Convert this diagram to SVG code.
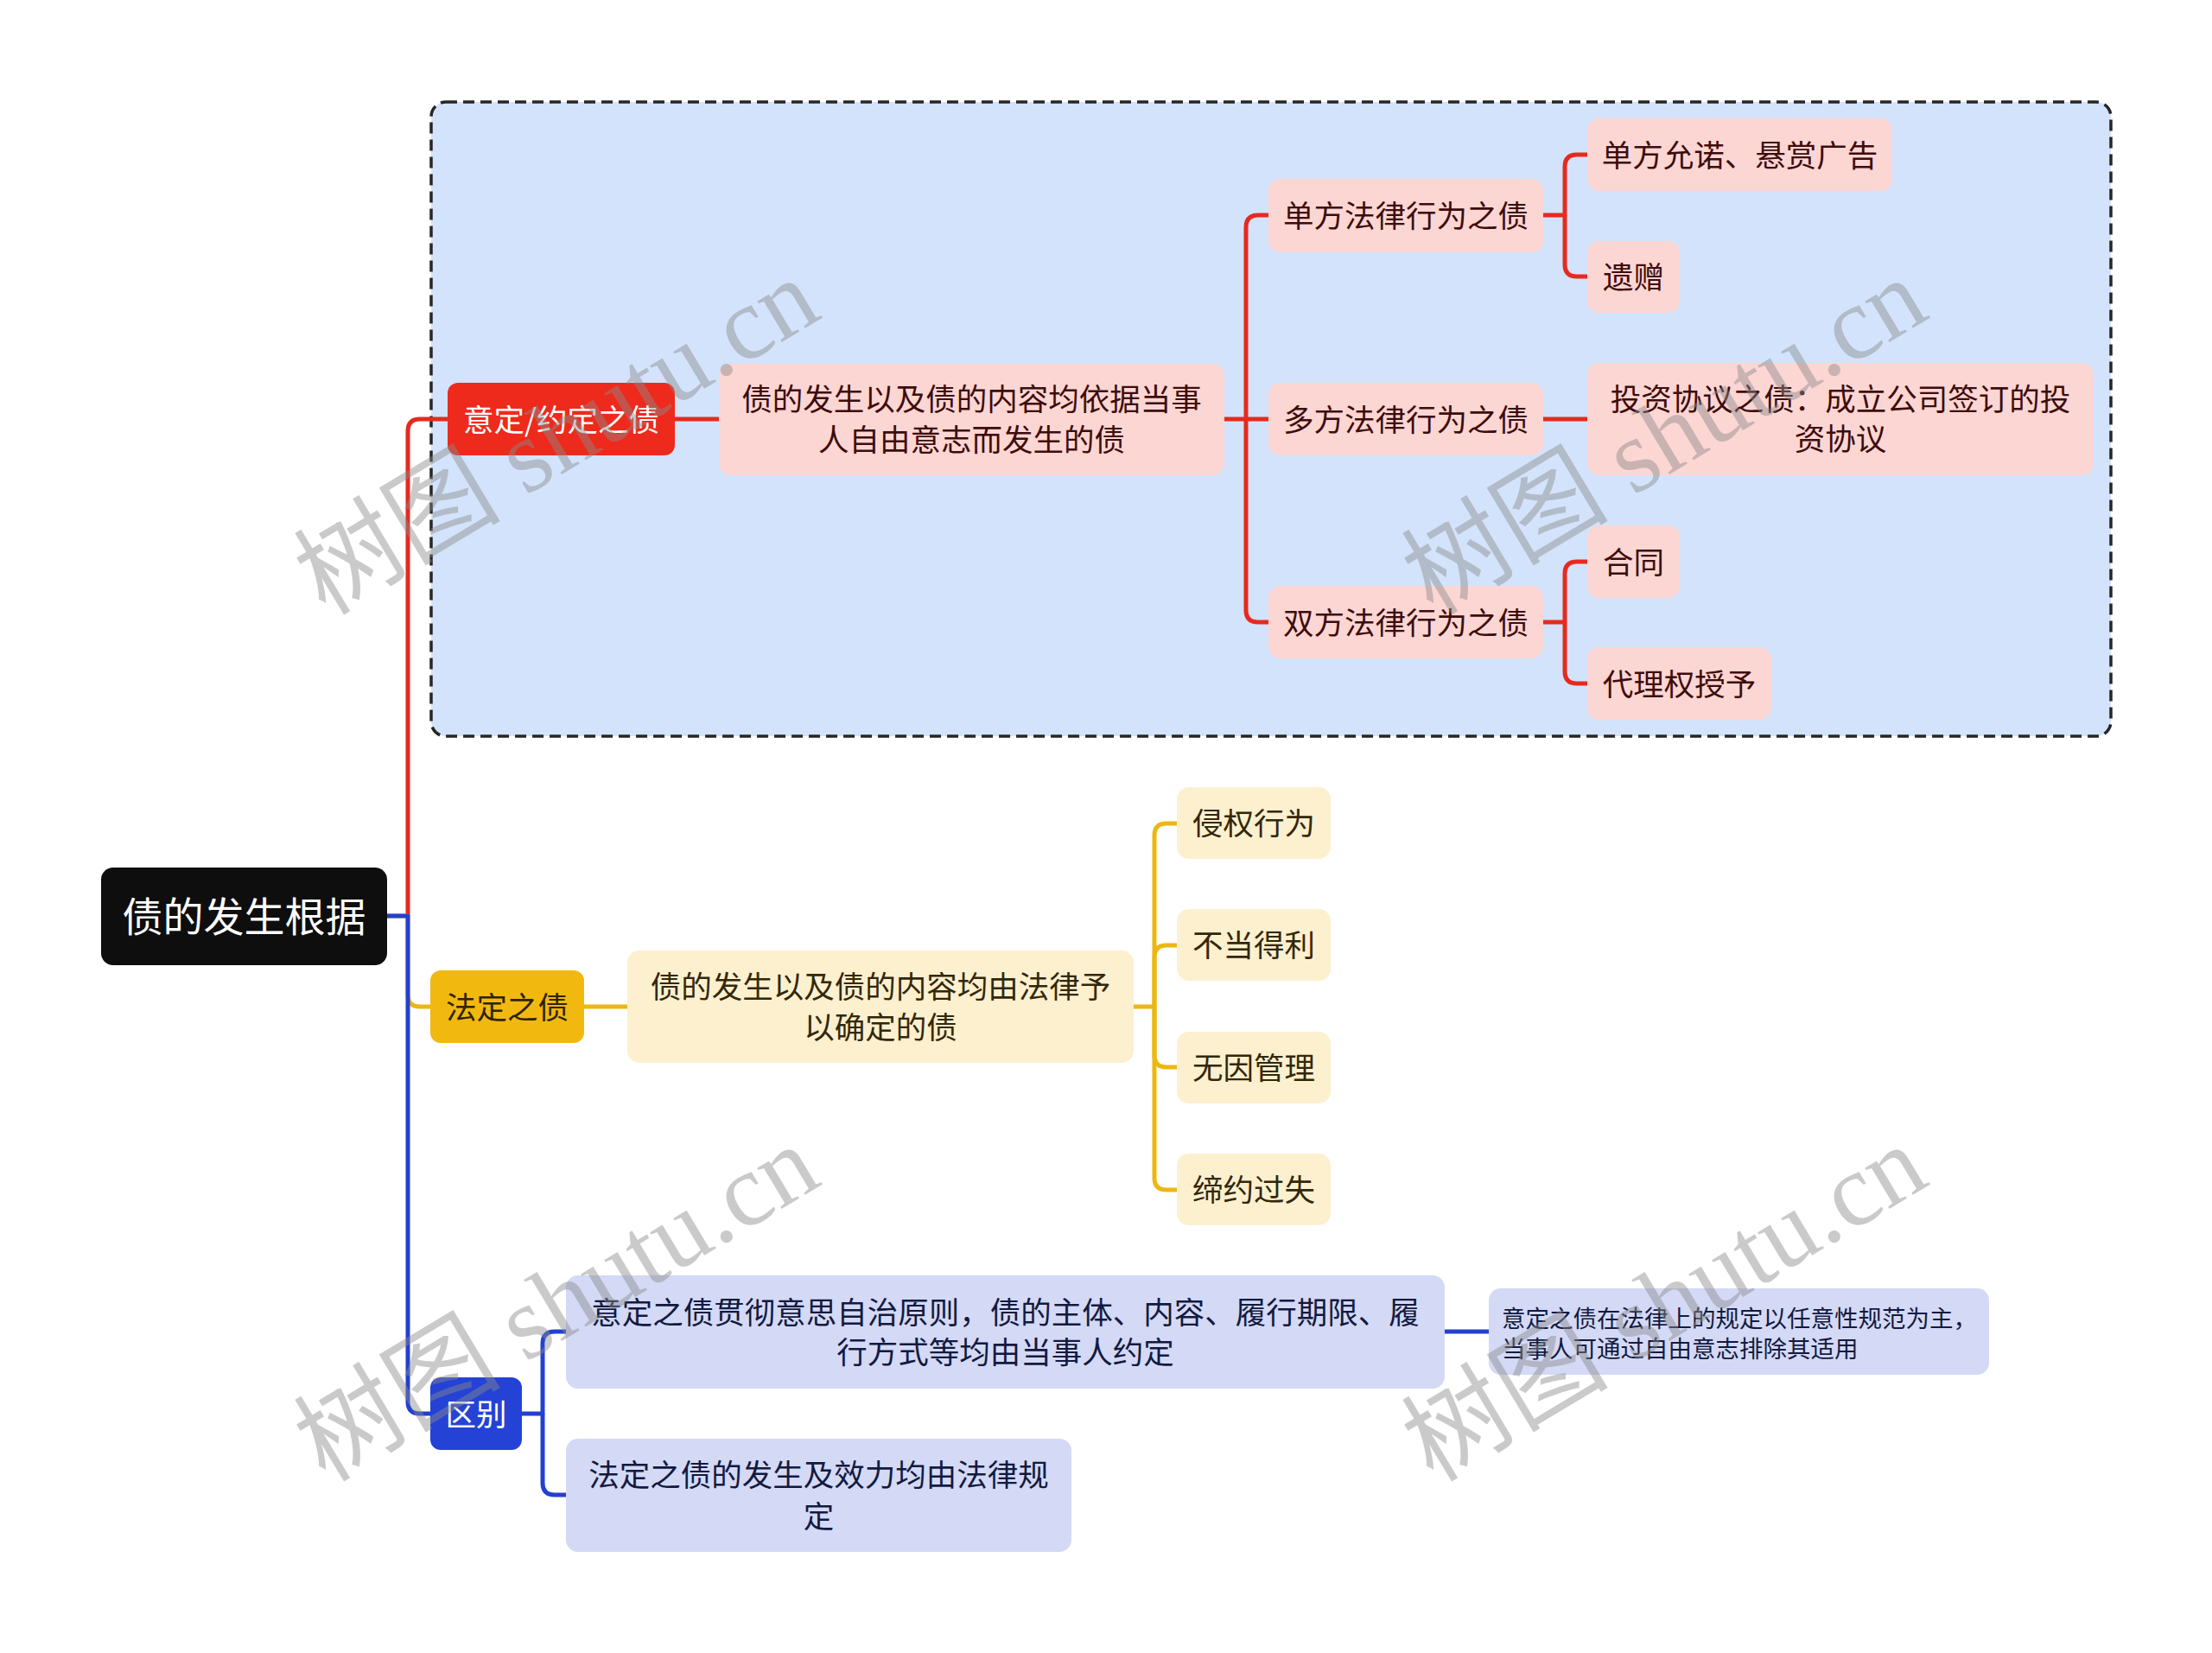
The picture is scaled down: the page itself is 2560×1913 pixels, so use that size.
<svg xmlns="http://www.w3.org/2000/svg" width="2560" height="1913" viewBox="0 0 2560 1913">
<style>
.t{font-family:"Noto Sans CJK SC","Noto Sans",sans-serif;font-size:35.5px;text-anchor:middle}
.w{fill:#ffffff}
.pk{fill:#FCD6D3}
.pkt{fill:#3E0C0C}
.yl{fill:#FCF0CF}
.ylt{fill:#33270A}
.lv{fill:#D4D9F6}
.lvt{fill:#121A40}
.cr{fill:none;stroke:#E62A1E;stroke-width:5;stroke-linejoin:round}
.cy{fill:none;stroke:#EDB713;stroke-width:5;stroke-linejoin:round}
.cb{fill:none;stroke:#2440CF;stroke-width:5;stroke-linejoin:round}
.wm{font-family:"Liberation Serif","Noto Sans CJK SC",serif;font-size:120px;fill:#8a8a8a;fill-opacity:0.45;text-anchor:middle}
</style>
<rect x="0" y="0" width="2560" height="1913" fill="#ffffff"/>
<g id="boundary">
<rect x="499" y="118" width="1944" height="734" rx="17" fill="#D3E3FB" stroke="#262626" stroke-width="3.5" stroke-dasharray="13 7"/>
</g>
<g id="connectors">
<path class="cr" d="M472 1060 V499 Q472 485 486 485 H518"/>
<path class="cr" d="M781 485 H832"/>
<path class="cr" d="M1417 485 H1468"/>
<path class="cr" d="M1442 485 V263 Q1442 249 1456 249 H1468"/>
<path class="cr" d="M1442 485 V706 Q1442 720 1456 720 H1468"/>
<path class="cr" d="M1786 249 H1811 V193 Q1811 179 1825 179 H1837"/>
<path class="cr" d="M1811 249 V306 Q1811 320 1825 320 H1837"/>
<path class="cr" d="M1786 485 H1837"/>
<path class="cr" d="M1786 720 H1811 V664 Q1811 650 1825 650 H1837"/>
<path class="cr" d="M1811 720 V777 Q1811 791 1825 791 H1837"/>
<path class="cy" d="M448 1060 H472 V1151 Q472 1165 486 1165 H498"/>
<path class="cy" d="M676 1165 H726"/>
<path class="cy" d="M1312 1165 H1336 V967 Q1336 953 1350 953 H1362"/>
<path class="cy" d="M1336 1165 V1108 Q1336 1094 1350 1094 H1362"/>
<path class="cy" d="M1336 1165 V1221 Q1336 1235 1350 1235 H1362"/>
<path class="cy" d="M1336 1165 V1363 Q1336 1377 1350 1377 H1362"/>
<path class="cb" d="M448 1060 H472 V1622 Q472 1636 486 1636 H498"/>
<path class="cb" d="M604 1636 H628 V1555 Q628 1541 642 1541 H655"/>
<path class="cb" d="M628 1636 V1716 Q628 1730 642 1730 H655"/>
<path class="cb" d="M1672 1541 H1723"/>
</g>
<g id="root">
<rect x="117" y="1004" width="331" height="113" rx="14" fill="#0E0E0E"/>
<text class="t w" x="282.5" y="1078" style="font-size:47px">债的发生根据</text>
</g>
<g id="n-yiding">
<rect x="518" y="443" width="263" height="84" rx="12" fill="#EE2A1C"/>
<text class="t w" x="649.5" y="498.5">意定/约定之债</text>
</g>
<g id="n-yiding-desc">
<rect class="pk" x="832" y="421" width="585" height="129" rx="14"/>
<text class="t pkt" x="1124.5" y="474.5">债的发生以及债的内容均依据当事</text>
<text class="t pkt" x="1124.5" y="521.5">人自由意志而发生的债</text>
</g>
<g id="n-danfang">
<rect class="pk" x="1468" y="207" width="318" height="85" rx="14"/>
<text class="t pkt" x="1627" y="262.5">单方法律行为之债</text>
</g>
<g id="n-duofang">
<rect class="pk" x="1468" y="443" width="318" height="84" rx="14"/>
<text class="t pkt" x="1627" y="498.5">多方法律行为之债</text>
</g>
<g id="n-shuangfang">
<rect class="pk" x="1468" y="678" width="318" height="84" rx="14"/>
<text class="t pkt" x="1627" y="733.5">双方法律行为之债</text>
</g>
<g id="n-yunnuo">
<rect class="pk" x="1837" y="137" width="353" height="84" rx="14"/>
<text class="t pkt" x="2013.5" y="192.5">单方允诺、悬赏广告</text>
</g>
<g id="n-yizeng">
<rect class="pk" x="1837" y="279" width="107" height="83" rx="14"/>
<text class="t pkt" x="1890.5" y="333.5">遗赠</text>
</g>
<g id="n-touzi">
<rect class="pk" x="1837" y="420" width="586" height="130" rx="14"/>
<text class="t pkt" x="2130" y="474.5">投资协议之债：成立公司签订的投</text>
<text class="t pkt" x="2130" y="520.5">资协议</text>
</g>
<g id="n-hetong">
<rect class="pk" x="1837" y="608" width="107" height="84" rx="14"/>
<text class="t pkt" x="1890.5" y="663.5">合同</text>
</g>
<g id="n-daili">
<rect class="pk" x="1837" y="749" width="213" height="84" rx="14"/>
<text class="t pkt" x="1943.5" y="804.5">代理权授予</text>
</g>
<g id="n-fading">
<rect x="498" y="1123" width="178" height="84" rx="12" fill="#F1B90F"/>
<text class="t" x="587" y="1178.5" fill="#2E2300">法定之债</text>
</g>
<g id="n-fading-desc">
<rect class="yl" x="726" y="1100" width="586" height="130" rx="14"/>
<text class="t ylt" x="1019" y="1154.5">债的发生以及债的内容均由法律予</text>
<text class="t ylt" x="1019" y="1201.5">以确定的债</text>
</g>
<g id="n-qinquan">
<rect class="yl" x="1362" y="911" width="178" height="83" rx="14"/>
<text class="t ylt" x="1451" y="966">侵权行为</text>
</g>
<g id="n-budang">
<rect class="yl" x="1362" y="1052" width="178" height="83" rx="14"/>
<text class="t ylt" x="1451" y="1107">不当得利</text>
</g>
<g id="n-wuyin">
<rect class="yl" x="1362" y="1194" width="178" height="83" rx="14"/>
<text class="t ylt" x="1451" y="1248.5">无因管理</text>
</g>
<g id="n-diyue">
<rect class="yl" x="1362" y="1335" width="178" height="83" rx="14"/>
<text class="t ylt" x="1451" y="1390">缔约过失</text>
</g>
<g id="n-qubie">
<rect x="498" y="1594" width="106" height="84" rx="12" fill="#2442D6"/>
<text class="t w" x="551" y="1649.5">区别</text>
</g>
<g id="n-qubie-1">
<rect class="lv" x="655" y="1476" width="1017" height="131" rx="14"/>
<text class="t lvt" x="1163.5" y="1531.5">意定之债贯彻意思自治原则，债的主体、内容、履行期限、履</text>
<text class="t lvt" x="1163.5" y="1578">行方式等均由当事人约定</text>
</g>
<g id="n-qubie-1-note">
<rect class="lv" x="1723" y="1491" width="579" height="100" rx="14"/>
<text class="t lvt" x="1738" y="1535.5" style="font-size:27.5px;text-anchor:start">意定之债在法律上的规定以任意性规范为主，</text>
<text class="t lvt" x="1738" y="1570.5" style="font-size:27.5px;text-anchor:start">当事人可通过自由意志排除其适用</text>
</g>
<g id="n-qubie-2">
<rect class="lv" x="655" y="1665" width="585" height="131" rx="14"/>
<text class="t lvt" x="947.5" y="1719.5">法定之债的发生及效力均由法律规</text>
<text class="t lvt" x="947.5" y="1767.5">定</text>
</g>
<g id="watermarks">
<text class="wm" transform="translate(665 540) rotate(-31)">树图 shutu.cn</text>
<text class="wm" transform="translate(1947 540) rotate(-31)">树图 shutu.cn</text>
<text class="wm" transform="translate(665 1543) rotate(-31)">树图 shutu.cn</text>
<text class="wm" transform="translate(1947 1543) rotate(-31)">树图 shutu.cn</text>
</g>
</svg>
